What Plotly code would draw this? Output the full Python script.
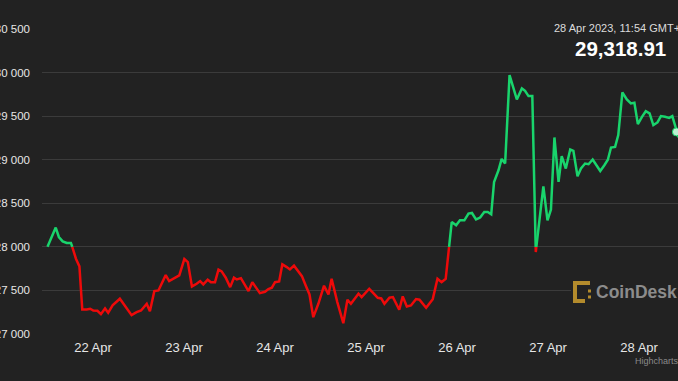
import plotly.graph_objects as go
import pandas as pd

# ---------------- data ----------------
times = [
    "2023-04-21 12:00", "2023-04-21 14:10", "2023-04-21 15:00", "2023-04-21 16:00", "2023-04-21 17:05",
    "2023-04-21 18:10", "2023-04-21 18:30", "2023-04-21 19:30", "2023-04-21 20:25", "2023-04-21 21:10",
    "2023-04-21 22:20", "2023-04-21 23:15", "2023-04-22 00:05", "2023-04-22 01:10", "2023-04-22 02:05",
    "2023-04-22 03:10", "2023-04-22 04:00", "2023-04-22 05:10", "2023-04-22 07:05", "2023-04-22 08:25",
    "2023-04-22 10:10", "2023-04-22 11:30", "2023-04-22 12:40", "2023-04-22 14:10", "2023-04-22 15:00",
    "2023-04-22 16:10", "2023-04-22 17:15", "2023-04-22 19:10", "2023-04-22 20:05", "2023-04-22 22:45",
    "2023-04-23 00:05", "2023-04-23 01:00", "2023-04-23 02:05", "2023-04-23 03:20", "2023-04-23 04:15",
    "2023-04-23 05:05", "2023-04-23 06:15", "2023-04-23 07:05", "2023-04-23 08:10", "2023-04-23 09:05",
    "2023-04-23 09:55", "2023-04-23 11:00", "2023-04-23 12:10", "2023-04-23 13:10", "2023-04-23 13:55",
    "2023-04-23 15:00", "2023-04-23 16:05", "2023-04-23 17:00", "2023-04-23 18:00", "2023-04-23 19:00",
    "2023-04-23 20:00", "2023-04-23 21:20", "2023-04-23 22:15", "2023-04-23 23:10", "2023-04-24 00:00",
    "2023-04-24 01:05", "2023-04-24 01:55", "2023-04-24 03:05", "2023-04-24 03:55", "2023-04-24 05:00",
    "2023-04-24 06:10", "2023-04-24 07:05", "2023-04-24 08:05", "2023-04-24 09:05", "2023-04-24 10:05",
    "2023-04-24 11:25", "2023-04-24 12:55", "2023-04-24 14:05", "2023-04-24 14:55", "2023-04-24 16:25",
    "2023-04-24 18:00", "2023-04-24 19:05", "2023-04-24 20:00", "2023-04-24 20:50", "2023-04-24 22:00",
    "2023-04-24 22:50", "2023-04-25 00:50", "2023-04-25 01:55", "2023-04-25 03:05", "2023-04-25 04:00",
    "2023-04-25 04:50", "2023-04-25 06:10", "2023-04-25 07:05", "2023-04-25 08:45", "2023-04-25 09:40",
    "2023-04-25 10:45", "2023-04-25 11:50", "2023-04-25 13:10", "2023-04-25 14:05", "2023-04-25 15:50",
    "2023-04-25 17:35", "2023-04-25 18:50", "2023-04-25 19:55", "2023-04-25 21:00", "2023-04-25 22:35",
    "2023-04-25 23:45", "2023-04-26 00:45", "2023-04-26 01:55", "2023-04-26 03:00", "2023-04-26 03:55",
    "2023-04-26 05:00", "2023-04-26 06:05", "2023-04-26 07:10", "2023-04-26 08:05", "2023-04-26 09:00",
    "2023-04-26 09:45", "2023-04-26 10:55", "2023-04-26 11:45", "2023-04-26 12:40", "2023-04-26 13:50",
    "2023-04-26 15:45", "2023-04-26 17:05", "2023-04-26 17:55", "2023-04-26 18:50", "2023-04-26 19:50",
    "2023-04-26 20:45", "2023-04-26 21:40", "2023-04-26 22:45", "2023-04-26 23:50", "2023-04-27 00:45",
    "2023-04-27 01:40", "2023-04-27 02:45", "2023-04-27 03:35", "2023-04-27 04:40", "2023-04-27 05:50",
    "2023-04-27 06:40", "2023-04-27 07:45", "2023-04-27 08:40", "2023-04-27 09:45", "2023-04-27 10:40",
    "2023-04-27 11:45", "2023-04-27 12:50", "2023-04-27 13:45", "2023-04-27 14:50", "2023-04-27 15:45",
    "2023-04-27 16:35", "2023-04-27 17:40", "2023-04-27 18:30", "2023-04-27 19:35", "2023-04-27 20:45",
    "2023-04-27 21:50", "2023-04-27 22:45", "2023-04-27 23:40", "2023-04-28 00:45", "2023-04-28 01:45",
    "2023-04-28 02:45", "2023-04-28 03:45", "2023-04-28 04:50", "2023-04-28 05:45", "2023-04-28 06:50",
    "2023-04-28 07:55", "2023-04-28 08:45", "2023-04-28 09:50", "2023-04-28 10:25",
]
prices = [
    28000, 28221, 28113, 28063, 28044, 28044, 28005, 27864, 27776, 27282,
    27282, 27290, 27270, 27266, 27228, 27293, 27243, 27328, 27405, 27328,
    27216, 27251, 27270, 27347, 27262, 27492, 27500, 27676, 27607, 27672,
    27860, 27825, 27546, 27577, 27607, 27569, 27623, 27595, 27595, 27738,
    27718, 27646, 27538, 27646, 27626, 27641, 27557, 27492, 27595, 27531,
    27469, 27485, 27515, 27531, 27595, 27603, 27799, 27768, 27741, 27784,
    27710, 27664, 27557, 27454, 27193, 27347, 27554, 27454, 27634, 27366,
    27124, 27393, 27347, 27393, 27462, 27423, 27519, 27469, 27416, 27408,
    27347, 27416, 27423, 27278, 27431, 27316, 27328, 27400, 27393, 27301,
    27400, 27634, 27595, 27634, 28285, 28247, 28305, 28305, 28382, 28389,
    28316, 28336, 28400, 28400, 28374, 28745, 28879, 29009, 28956, 29971,
    29692, 29818, 29791, 29730, 29730, 27940, 28305, 28695, 28305, 28428,
    29255, 28745, 29040, 28899, 29117, 29101, 28810, 28899, 28956, 28948,
    29002, 28937, 28871, 28937, 29000, 29140, 29147, 29282, 29772, 29692,
    29646, 29653, 29408, 29492, 29557, 29531, 29397, 29428, 29500, 29492,
    29480, 29500, 29318.91, 29255,
]
open_price = 28000          # colour threshold (green above, red below)
hover_price = 29318.91
hover_label = "28 Apr 2023, 11:54 GMT+1"

y_tick_vals = [27000, 27500, 28000, 28500, 29000, 29500, 30000, 30500]
y_tick_text = ["27 000", "27 500", "28 000", "28 500", "29 000", "29 500", "30 000", "30 500"]
x_tick_vals = ["2023-04-22", "2023-04-23", "2023-04-24", "2023-04-25", "2023-04-26", "2023-04-27", "2023-04-28"]
x_tick_text = ["22 Apr", "23 Apr", "24 Apr", "25 Apr", "26 Apr", "27 Apr", "28 Apr"]

# ---------------- styling ----------------
W, H = 678, 381
ML, MR, MT, MB = 42, 0, 29, 47
PW, PH = W - ML - MR, H - MT - MB
BG = "#222222"
GRID = "#3b3b3b"
GREEN = "#19d46c"
RED = "#ee0a0a"
FONT = "Liberation Sans, Arial, Helvetica, sans-serif"


def px_x(px):
    return (px - ML) / PW


def px_y(py):
    return (H - MB - py) / PH


# ---------------- split the line into green / red parts ----------------
ts = pd.to_datetime(times)
green_x, green_y, red_x, red_y = [], [], [], []


def add_seg(xs, ys, a, b):
    if xs and xs[-1] is not None and xs[-1] == a[0] and ys[-1] == a[1]:
        xs.append(b[0]); ys.append(b[1])
    else:
        if xs:
            xs.append(None); ys.append(None)
        xs.extend([a[0], b[0]]); ys.extend([a[1], b[1]])


def pick(above):
    return (green_x, green_y) if above else (red_x, red_y)


for i in range(len(ts) - 1):
    a = (ts[i].isoformat(), prices[i])
    b = (ts[i + 1].isoformat(), prices[i + 1])
    ua = prices[i] >= open_price
    ub = prices[i + 1] >= open_price
    if ua == ub:
        add_seg(*pick(ua), a, b)
    else:
        f = (open_price - prices[i]) / (prices[i + 1] - prices[i])
        tc = ts[i] + (ts[i + 1] - ts[i]) * f
        c = (tc.isoformat(), open_price)
        add_seg(*pick(ua), a, c)
        add_seg(*pick(ub), c, b)

fig = go.Figure()
fig.add_trace(go.Scatter(x=red_x, y=red_y, mode="lines",
                         line=dict(color=RED, width=2.5), hoverinfo="skip", showlegend=False))
fig.add_trace(go.Scatter(x=green_x, y=green_y, mode="lines",
                         line=dict(color=GREEN, width=2.5), hoverinfo="skip", showlegend=False))

hi = prices.index(hover_price)
fig.add_trace(go.Scatter(x=[times[hi]], y=[prices[hi]], mode="markers",
                         marker=dict(size=8, color="#bdf0d2", line=dict(color=GREEN, width=1)),
                         hoverinfo="skip", showlegend=False))

fig.update_layout(
    width=W, height=H,
    margin=dict(l=ML, r=MR, t=MT, b=MB, pad=0),
    paper_bgcolor=BG, plot_bgcolor=BG,
    font=dict(family=FONT, color="#e0e0e0"),
    showlegend=False,
    xaxis=dict(
        type="date",
        range=["2023-04-21 10:33", "2023-04-28 10:15"],
        tickvals=x_tick_vals, ticktext=x_tick_text,
        showgrid=False, zeroline=False, showline=False,
        ticks="", ticklabelstandoff=4,
        tickfont=dict(size=13, color="#e6e6e6", family=FONT),
        automargin=False, fixedrange=True,
    ),
    yaxis=dict(
        range=[27000, 30500],
        tickvals=y_tick_vals, ticktext=y_tick_text,
        showgrid=True, gridcolor=GRID, gridwidth=1,
        zeroline=False, showline=False,
        ticks="", ticklabelstandoff=11,
        tickfont=dict(size=11.5, color="#e6e6e6", family=FONT),
        automargin=False, fixedrange=True,
    ),
)

annotations = [
    dict(text=hover_label, x=px_x(620), y=px_y(28), xref="paper", yref="paper",
         xanchor="center", yanchor="middle", showarrow=False, bgcolor=BG, borderpad=2,
         font=dict(size=11, color="#dcdcdc", family=FONT)),
    dict(text="<b>29,318.91</b>", x=px_x(620), y=px_y(48), xref="paper", yref="paper",
         xanchor="center", yanchor="middle", showarrow=False,
         font=dict(size=20.5, color="#ffffff", family=FONT)),
    dict(text="<b>CoinDesk</b>", x=px_x(594), y=px_y(292), xref="paper", yref="paper",
         xanchor="left", yanchor="middle", showarrow=False,
         font=dict(size=17.5, color="#8c8c8c", family=FONT)),
    dict(text="Highcharts.com", x=px_x(633), y=px_y(361), xref="paper", yref="paper",
         xanchor="left", yanchor="middle", showarrow=False,
         font=dict(size=9, color="#8a8a8a", family=FONT)),
]
fig.update_layout(annotations=annotations)

GOLD = "#b38b2c"
shapes = [
    # background patch behind watermark (hides gridline)
    dict(type="rect", xref="paper", yref="paper", x0=px_x(571), x1=px_x(680), y0=px_y(298), y1=px_y(286),
         fillcolor=BG, line=dict(width=0), layer="above"),
]
for (x0, x1, y0, y1) in [(573, 590, 281, 285), (573, 577, 281, 303), (573, 585, 299, 303),
                         (588, 591, 289.5, 292.5), (588, 591, 295.5, 298.5)]:
    shapes.append(dict(type="rect", xref="paper", yref="paper", x0=px_x(x0), x1=px_x(x1),
                       y0=px_y(y1), y1=px_y(y0), fillcolor=GOLD, line=dict(width=0), layer="above"))
fig.update_layout(shapes=shapes)

fig.write_html(
    "out.html",
    config={"displayModeBar": False, "staticPlot": True},
    post_script="document.body.style.margin='0';document.body.style.overflow='hidden';"
                "document.body.style.background='#222222';",
)
